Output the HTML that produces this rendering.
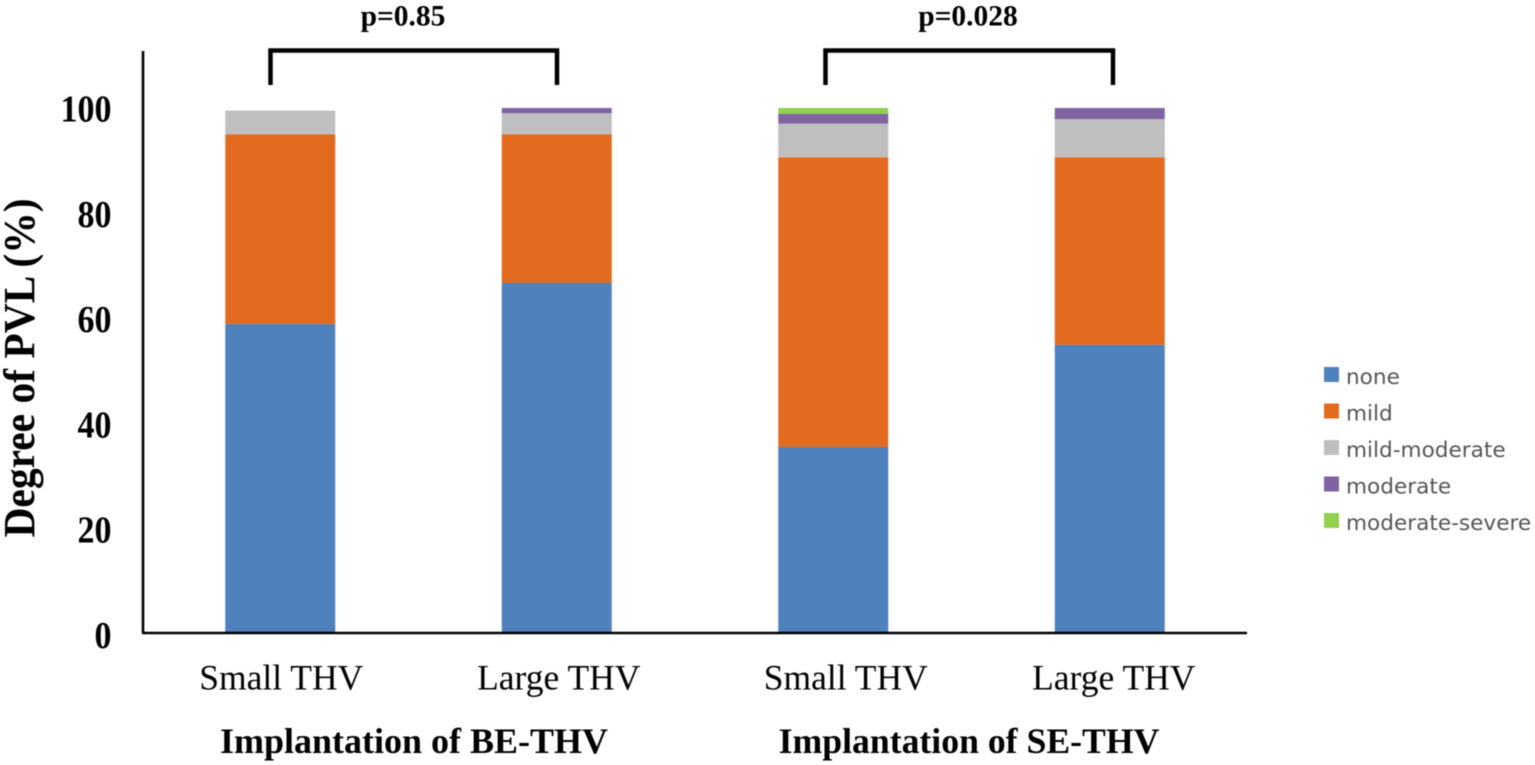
<!DOCTYPE html>
<html lang="en">
<head>
<meta charset="utf-8">
<title>Degree of PVL by THV size</title>
<style>
html,body{margin:0;padding:0;background:#fff;}
body{width:1535px;height:765px;overflow:hidden;}
svg{display:block;filter:blur(0.45px);}
.serif{font-family:"Liberation Serif",serif;fill:#000;}
.bold{font-weight:700;}
.legend-label{font-family:"DejaVu Sans",sans-serif;fill:#555;font-size:21.6px;}
</style>
</head>
<body>
<svg id="chart" width="1535" height="765" viewBox="0 0 1535 765" xmlns="http://www.w3.org/2000/svg">
  <g id="bars"></g>
  <line x1="143" y1="51" x2="143" y2="633" stroke="#000" stroke-width="2.6"/>
  <line x1="142" y1="633" x2="1247" y2="633" stroke="#000" stroke-width="2.6"/>
  <g id="y-ticks"></g>
  <g id="x-labels"></g>
  <text class="serif bold" font-size="41.500" text-anchor="middle" transform="translate(34,368) rotate(-90) scale(1,1.06)">Degree of PVL (%)</text>
  <text class="serif bold" font-size="36" text-anchor="middle" x="414" y="753">Implantation of BE-THV</text>
  <text class="serif bold" font-size="35.700" text-anchor="middle" x="969" y="753">Implantation of SE-THV</text>
  <path d="M270.500 85V50.500H557V85" fill="none" stroke="#000" stroke-width="4.500"/>
  <path d="M825.500 85V50.500H1113V85" fill="none" stroke="#000" stroke-width="4.500"/>
  <text class="serif bold" font-size="29.500" text-anchor="middle" x="403" y="25.500">p=0.85</text>
  <text class="serif bold" font-size="29.500" text-anchor="middle" x="968" y="25.500">p=0.028</text>
  <g id="legend"></g>
</svg>
<script>
const categories = ["Small THV", "Large THV", "Small THV", "Large THV"];
const seriesNames = ["none", "mild", "mild-moderate", "moderate", "moderate-severe"];
const none = [58.8, 66.6, 35.3, 54.8];
const mild = [36.2, 28.4, 55.3, 35.8];
const mildModerate = [4.5, 4.0, 6.4, 7.3];
const moderate = [0, 1.0, 1.9, 2.1];
const moderateSevere = [0, 0, 1.1, 0];
const yTicks = [0, 20, 40, 60, 80, 100];

const seriesValues = [none, mild, mildModerate, moderate, moderateSevere];
const seriesColors = ["#4f81bd", "#e26b20", "#bfbfbf", "#8064a2", "#92d050"];
const SVG_NS = "http://www.w3.org/2000/svg";

const plot = {left: 142, bandWidth: 276.5, barWidth: 110, baseline: 632, unit: 5.24};
const labelNudge = [1, 2, 12.5, 4];
function yScale(v) { return plot.baseline - v * plot.unit; }
function tickBaseline(v) { return 648 - v * 5.263; }
function xCenter(i) { return plot.left + plot.bandWidth * (i + 0.5); }

function make(tag, attrs, parent) {
  const el = document.createElementNS(SVG_NS, tag);
  for (const k in attrs) el.setAttribute(k, attrs[k]);
  parent.appendChild(el);
  return el;
}

const barsGroup = document.getElementById("bars");
categories.forEach(function (cat, c) {
  let total = 0;
  seriesValues.forEach(function (values, s) {
    const v = values[c];
    if (v > 0) {
      const rect = make("rect", {
        x: xCenter(c) - plot.barWidth / 2,
        y: yScale(total + v),
        width: plot.barWidth,
        height: v * plot.unit,
        fill: seriesColors[s]
      }, barsGroup);
      
      
    }
    total += v;
  });
});

const tickGroup = document.getElementById("y-ticks");
yTicks.forEach(function (t) {
  const label = make("text", {
    transform: "translate(111.5," + tickBaseline(t) + ") scale(1,1.13)",
    "text-anchor": "end",
    "font-size": 34,
    "class": "serif bold"
  }, tickGroup);
  
  
  label.textContent = t;
});

const xGroup = document.getElementById("x-labels");
categories.forEach(function (cat, c) {
  const label = make("text", {
    x: xCenter(c) + labelNudge[c],
    y: 689.5,
    "text-anchor": "middle",
    "font-size": 35.5,
    "class": "serif"
  }, xGroup);
  
  
  label.textContent = cat;
});

const legendGroup = document.getElementById("legend");
seriesNames.forEach(function (name, s) {
  const rowY = 367 + s * 36.5;
  const swatch = make("rect", {
    x: 1324, y: rowY, width: 15, height: 15,
    fill: seriesColors[s]
  }, legendGroup);
  
  
  const label = make("text", {
    x: 1346, y: rowY + 17, "class": "legend-label"
  }, legendGroup);
  
  
  label.textContent = name;
});
</script>
</body>
</html>
